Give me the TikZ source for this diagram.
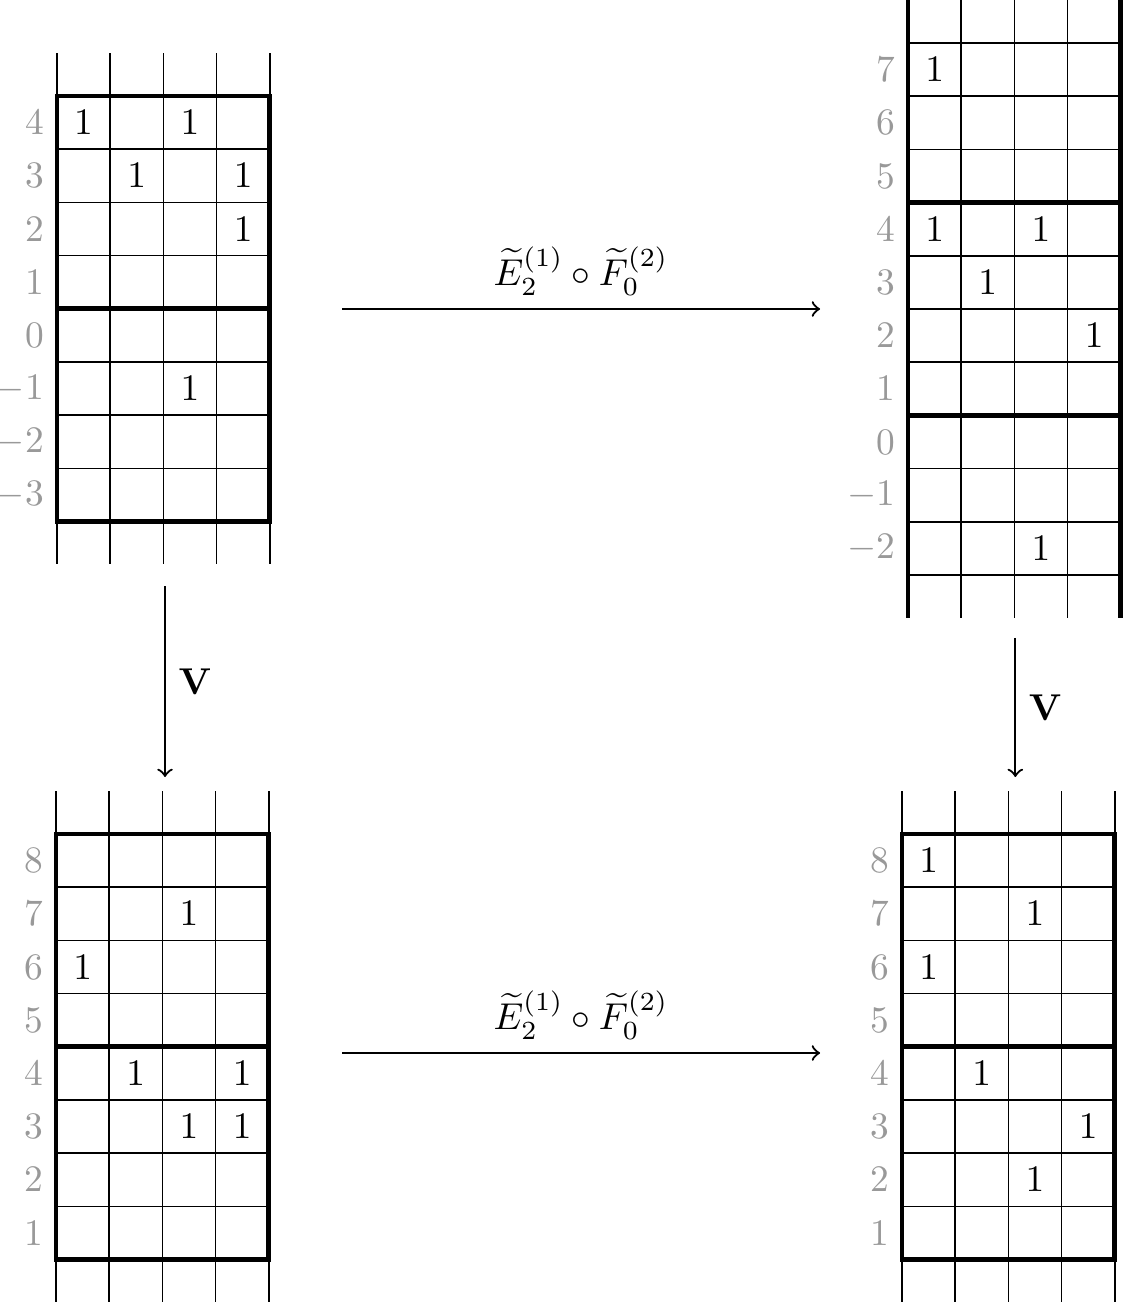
\documentclass[tikz,border=0pt]{standalone}
\usepackage{amsmath}
\begin{document}
\begin{tikzpicture}[x=0.5cm,y=-0.5cm]
\tikzset{
  thinline/.style={line width=0.4pt},
  thickline/.style={line width=1.3pt},
  rowlabel/.style={anchor=east, text=black!40},
  entry/.style={inner sep=0pt},
  maparrow/.style={->, line width=0.6pt},
  maplabel/.style={font=\normalsize},
}
\useasboundingbox (0,0) rectangle (21.128,24.511);

% ---------- top-left grid ----------
\begin{scope}[shift={(1.071,1.805)}]
  \foreach \c in {0,...,4} \draw[thinline] (\c,-0.8) -- (\c,8.8);
  \foreach \r in {1,...,7} \draw[thinline] (0,\r) -- (4,\r);
  \draw[thickline] (0,0) rectangle (4,8);
  \draw[thickline] (0,4) -- (4,4);
  \foreach \r [count=\i from 0] in {4,3,...,-3}
    \node[rowlabel] (tl-lab-\i) at (0,\i+0.5) {$\r$};
  \foreach \c/\r in {1/4,3/4,2/3,4/3,4/2,3/-1}
    \node[entry] (tl-\c-\r) at ({\c-0.5},{4-\r+0.5}) {$1$};
\end{scope}

% ---------- top-right grid ----------
\begin{scope}[shift={(17.068,0.808)}]
  \foreach \c in {1,2,3} \draw[thinline] (\c,-0.8) -- (\c,10.8);
  \foreach \r in {0,1,2,4,5,6,8,9,10} \draw[thinline] (0,\r) -- (4,\r);
  \draw[thickline] (0,-0.8) -- (0,10.8);
  \draw[thickline] (4,-0.8) -- (4,10.8);
  \draw[thickline] (0,3) -- (4,3);
  \draw[thickline] (0,7) -- (4,7);
  \foreach \r [count=\i from 0] in {7,6,...,-2}
    \node[rowlabel] (tr-lab-\i) at (0,\i+0.5) {$\r$};
  \foreach \c/\r in {1/7,1/4,3/4,2/3,4/2,3/-2}
    \node[entry] (tr-\c-\r) at ({\c-0.5},{7-\r+0.5}) {$1$};
\end{scope}

% ---------- bottom-left grid ----------
\begin{scope}[shift={(1.053,15.677)}]
  \foreach \c in {0,...,4} \draw[thinline] (\c,-0.8) -- (\c,8.8);
  \foreach \r in {1,...,7} \draw[thinline] (0,\r) -- (4,\r);
  \draw[thickline] (0,0) rectangle (4,8);
  \draw[thickline] (0,4) -- (4,4);
  \foreach \r [count=\i from 0] in {8,7,...,1}
    \node[rowlabel] (bl-lab-\i) at (0,\i+0.5) {$\r$};
  \foreach \c/\r in {3/7,1/6,2/4,4/4,3/3,4/3}
    \node[entry] (bl-\c-\r) at ({\c-0.5},{8-\r+0.5}) {$1$};
\end{scope}

% ---------- bottom-right grid ----------
\begin{scope}[shift={(16.955,15.677)}]
  \foreach \c in {0,...,4} \draw[thinline] (\c,-0.8) -- (\c,8.8);
  \foreach \r in {1,...,7} \draw[thinline] (0,\r) -- (4,\r);
  \draw[thickline] (0,0) rectangle (4,8);
  \draw[thickline] (0,4) -- (4,4);
  \foreach \r [count=\i from 0] in {8,7,...,1}
    \node[rowlabel] (br-lab-\i) at (0,\i+0.5) {$\r$};
  \foreach \c/\r in {1/8,3/7,1/6,2/4,4/3,3/2}
    \node[entry] (br-\c-\r) at ({\c-0.5},{8-\r+0.5}) {$1$};
\end{scope}

% ---------- arrows ----------
\coordinate (h1s) at (6.429,5.808);
\coordinate (h1e) at (15.414,5.808);
\coordinate (h2s) at (6.429,19.793);
\coordinate (h2e) at (15.414,19.793);
\coordinate (v1s) at (3.102,11.015);
\coordinate (v1e) at (3.102,14.605);
\coordinate (v2s) at (19.085,11.992);
\coordinate (v2e) at (19.085,14.605);

\draw[maparrow] (h1s) -- (h1e)
  node[midway, above, maplabel] (lab-h1) {$\widetilde{E}_2^{(1)}\circ\widetilde{F}_0^{(2)}$};
\draw[maparrow] (h2s) -- (h2e)
  node[midway, above, maplabel] (lab-h2) {$\widetilde{E}_2^{(1)}\circ\widetilde{F}_0^{(2)}$};
\draw[maparrow] (v1s) -- (v1e)
  node[midway, right, maplabel] (lab-v1) {$\mathbf{V}$};
\draw[maparrow] (v2s) -- (v2e)
  node[midway, right, maplabel] (lab-v2) {$\mathbf{V}$};
\end{tikzpicture}
\end{document}
